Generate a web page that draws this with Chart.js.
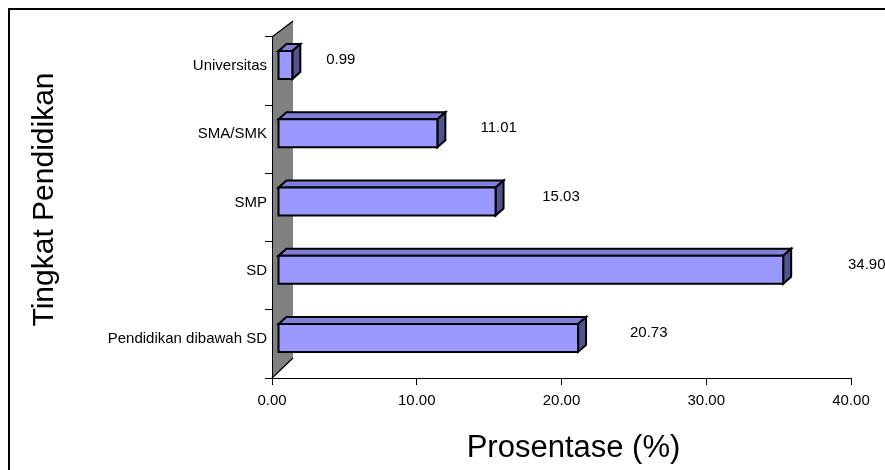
<!DOCTYPE html>
<html>
<head>
<meta charset="utf-8">
<title>Tingkat Pendidikan</title>
<script src="https://cdn.jsdelivr.net/npm/chart.js@4.4.0/dist/chart.umd.min.js"></script>
<style>
  html, body { margin: 0; padding: 0; background: #fff; }
  #wrap { width: 885px; height: 470px; position: relative; overflow: hidden; }
</style>
</head>
<body>
<div id="wrap"><canvas id="chart" width="885" height="470"></canvas></div>
<script>
// Education level shares (percent), listed bottom to top
const categories = ['Pendidikan dibawah SD', 'SD', 'SMP', 'SMA/SMK', 'Universitas'];
const values = [20.73, 34.90, 15.03, 11.01, 0.99];
const xTickValues = [0, 10, 20, 30, 40];
const xTitle = 'Prosentase (%)';
const yTitle = 'Tingkat Pendidikan';

const FONT = 'Liberation Sans, Arial, Helvetica, sans-serif';

// 3D look: bars sit a little inside the floor depth
const BAR_SHIFT_X = 6, BAR_SHIFT_Y = -6;
const BAR_DEPTH_X = 8, BAR_DEPTH_Y = -7;
const WALL_TOP_DX = 21, WALL_TOP_DY = -16;
const WALL_BOT_DX = 21, WALL_BOT_DY = -20;
const FRONT_COLOR = '#9999FF';
const TOP_COLOR = '#8080DA';
const SIDE_COLOR = '#52528C';
const WALL_COLOR = '#808080';
// value labels float on a slightly deeper plane
const LABEL_SPREAD = 1.063, LABEL_GAP = 39, LABEL_RISE = 11;

function poly(ctx, pts, fill) {
  ctx.beginPath();
  ctx.moveTo(pts[0][0], pts[0][1]);
  for (let i = 1; i < pts.length; i++) ctx.lineTo(pts[i][0], pts[i][1]);
  ctx.closePath();
  ctx.fillStyle = fill;
  ctx.fill();
  ctx.stroke();
}

const box3d = {
  id: 'box3d',
  beforeDraw(chart) {
    const ctx = chart.ctx;
    const a = chart.chartArea;
    ctx.save();
    ctx.fillStyle = '#fff';
    ctx.fillRect(0, 0, chart.width, chart.height);
    // side wall behind the category axis
    ctx.beginPath();
    ctx.moveTo(a.left, a.top);
    ctx.lineTo(a.left + WALL_TOP_DX, a.top + WALL_TOP_DY);
    ctx.lineTo(a.left + WALL_BOT_DX, a.bottom + WALL_BOT_DY);
    ctx.lineTo(a.left, a.bottom);
    ctx.closePath();
    ctx.fillStyle = WALL_COLOR;
    ctx.fill();
    ctx.strokeStyle = '#000';
    ctx.lineWidth = 1.2;
    ctx.beginPath();
    ctx.moveTo(a.left, a.top);
    ctx.lineTo(a.left + WALL_TOP_DX, a.top + WALL_TOP_DY);
    ctx.moveTo(a.left, a.bottom);
    ctx.lineTo(a.left + WALL_BOT_DX, a.bottom + WALL_BOT_DY);
    ctx.stroke();
    ctx.restore();
  },
  afterDatasetsDraw(chart) {
    const ctx = chart.ctx;
    const meta = chart.getDatasetMeta(0);
    const xs = chart.scales.x;
    ctx.save();
    ctx.strokeStyle = '#000';
    ctx.lineWidth = 2;
    ctx.lineJoin = 'miter';
    meta.data.forEach((el, i) => {
      const p = el.getProps(['x', 'y', 'base', 'height'], true);
      const L = p.base + BAR_SHIFT_X, R = p.x + BAR_SHIFT_X;
      const T = p.y - p.height / 2 + BAR_SHIFT_Y, B = p.y + p.height / 2 + BAR_SHIFT_Y;
      const dx = BAR_DEPTH_X, dy = BAR_DEPTH_Y;
      poly(ctx, [[L, T], [L + dx, T + dy], [R + dx, T + dy], [R, T]], TOP_COLOR);
      poly(ctx, [[R, T], [R + dx, T + dy], [R + dx, B + dy], [R, B]], SIDE_COLOR);
      poly(ctx, [[L, T], [R, T], [R, B], [L, B]], FRONT_COLOR);
    });
    // value labels
    ctx.fillStyle = '#000';
    ctx.font = '15px ' + FONT;
    ctx.textAlign = 'left';
    ctx.textBaseline = 'middle';
    meta.data.forEach((el, i) => {
      const v = values[i];
      const lx = xs.getPixelForValue(v * LABEL_SPREAD) + LABEL_GAP;
      ctx.fillText(v.toFixed(2), lx, el.y - LABEL_RISE);
    });
    ctx.restore();
  },
  afterDraw(chart) {
    const ctx = chart.ctx;
    const a = chart.chartArea;
    ctx.save();
    ctx.fillStyle = '#000';
    // axis titles
    ctx.font = '31px ' + FONT;
    ctx.textAlign = 'center';
    ctx.textBaseline = 'alphabetic';
    ctx.fillText(xTitle, (a.left + a.right) / 2 + 12, 457);
    ctx.font = '30px ' + FONT;
    ctx.translate(53, (a.top + a.bottom) / 2 - 8);
    ctx.rotate(-Math.PI / 2);
    ctx.fillText(yTitle, 0, 0);
    ctx.restore();
    // outer frame
    ctx.save();
    ctx.strokeStyle = '#000';
    ctx.lineWidth = 2;
    ctx.strokeRect(9, 9, 900, 500);
    ctx.restore();
  }
};

new Chart(document.getElementById('chart'), {
  type: 'bar',
  data: {
    labels: categories,
    datasets: [{
      data: values,
      backgroundColor: 'rgba(0,0,0,0)',
      borderWidth: 0,
      barPercentage: 0.41,
      categoryPercentage: 1
    }]
  },
  options: {
    indexAxis: 'y',
    responsive: false,
    animation: false,
    devicePixelRatio: 1,
    layout: { padding: { top: 37, right: 34, left: 0, bottom: 0 } },
    plugins: { legend: { display: false }, tooltip: { enabled: false } },
    scales: {
      x: {
        type: 'linear',
        min: 0,
        max: 40,
        afterBuildTicks: s => { s.ticks = xTickValues.map(v => ({ value: v })); },
        afterFit: s => { s.height = 92; },
        ticks: {
          color: '#000',
          font: { family: FONT, size: 15 },
          padding: 7,
          maxRotation: 0,
          callback: v => Number(v).toFixed(2)
        },
        grid: { drawOnChartArea: false, drawTicks: true, tickLength: 7, color: '#000' },
        border: { color: '#000', width: 1 }
      },
      y: {
        reverse: true,
        afterFit: s => { s.width = 272; },
        ticks: {
          color: '#000',
          font: { family: FONT, size: 15 },
          padding: -2,
          labelOffset: -5
        },
        grid: { offset: true, drawOnChartArea: false, drawTicks: true, tickLength: 7, color: '#000' },
        border: { color: '#000', width: 1 }
      }
    }
  },
  plugins: [box3d]
});
</script>
</body>
</html>
